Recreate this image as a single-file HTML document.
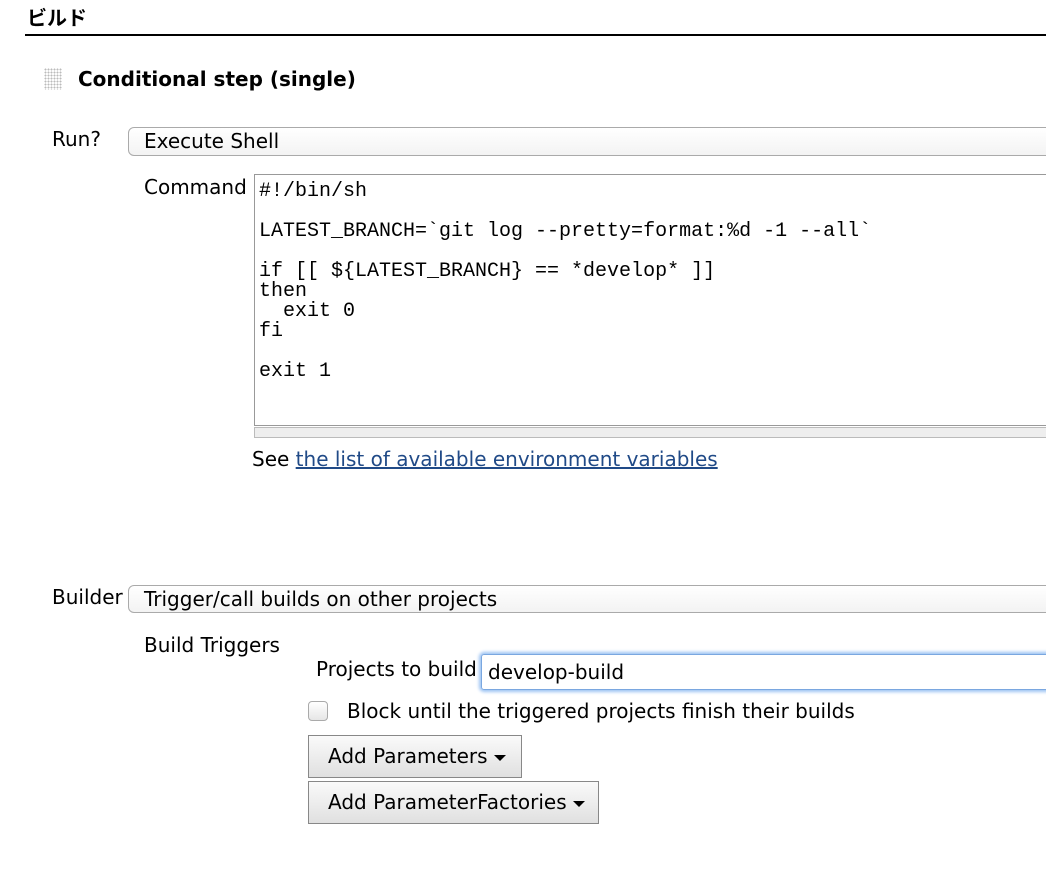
<!DOCTYPE html>
<html><head><meta charset="utf-8"><style>
body{margin:0;width:1046px;height:876px;background:#fff;position:relative;overflow:hidden;font-family:"DejaVu Sans","Liberation Sans","Noto Sans CJK JP",sans-serif;color:#000;}
.a{position:absolute;white-space:nowrap;}
.lbl{font-size:20px;line-height:24px;}
.sel{position:absolute;border:1px solid #aaa;border-radius:6px;background:linear-gradient(#fff,#f3f3f3);font-size:20px;line-height:26px;padding-left:15px;box-sizing:border-box;}
.mono{font-family:"Liberation Mono",monospace;font-size:20px;line-height:20px;white-space:pre;}
.btn{position:absolute;border:1px solid #888;background:linear-gradient(#fafafa,#e0e0e0);font-size:20px;box-sizing:border-box;padding-left:19px;line-height:40px;}
.tri{display:inline-block;width:0;height:0;border-left:6px solid transparent;border-right:6px solid transparent;border-top:6px solid #000;vertical-align:middle;margin-left:6px;}
</style></head><body>
<div class="a" style="left:27px;top:4px;font-size:20px;font-weight:bold;line-height:28px;">ビルド</div>
<div class="a" style="left:25px;top:34px;width:1021px;height:2px;background:#000;"></div>
<div class="a" style="left:44px;top:68px;width:18px;height:22px;background-image:radial-gradient(circle,#bbb 0.9px,transparent 1.1px);background-size:3px 3px;"></div>
<div class="a" style="left:78px;top:66px;font-size:20px;font-weight:bold;line-height:26px;">Conditional step (single)</div>
<div class="a lbl" style="left:52px;top:127px;">Run?</div>
<div class="sel" style="left:128px;top:127px;width:930px;height:29px;">Execute Shell</div>
<div class="a lbl" style="left:144px;top:175px;">Command</div>
<div class="a" style="left:254px;top:174px;width:800px;height:252px;border:1px solid #999;box-sizing:border-box;border-right:none;"></div>
<div class="a mono" style="left:259px;top:182px;">#!/bin/sh

LATEST_BRANCH=`git log --pretty=format:%d -1 --all`

if [[ ${LATEST_BRANCH} == *develop* ]]
then
  exit 0
fi

exit 1</div>
<div class="a" style="left:254px;top:427px;width:800px;height:11px;background:#eee;border:1px solid #bbb;border-right:none;box-sizing:border-box;"></div>
<div class="a lbl" style="left:252px;top:447px;">See <span style="color:#204a87;text-decoration:underline;">the list of available environment variables</span></div>
<div class="a lbl" style="left:52px;top:585px;">Builder</div>
<div class="sel" style="left:128px;top:585px;width:930px;height:28px;">Trigger/call builds on other projects</div>
<div class="a lbl" style="left:144px;top:633px;">Build Triggers</div>
<div class="a lbl" style="left:316px;top:657px;">Projects to build</div>
<div class="a" style="left:481px;top:654px;width:600px;height:36px;border:1px solid #7aa7e0;box-shadow:0 0 3px 2px #9cc3f3;box-sizing:border-box;border-radius:3px;"></div>
<div class="a lbl" style="left:488px;top:660px;">develop-build</div>
<div class="a" style="left:308px;top:701px;width:20px;height:20px;border:1px solid #aaa;border-radius:4px;background:linear-gradient(#fff,#e6e6e6);box-sizing:border-box;"></div>
<div class="a lbl" style="left:347px;top:699px;">Block until the triggered projects finish their builds</div>
<div class="btn" style="left:308px;top:735px;width:214px;height:43px;">Add Parameters<span class="tri"></span></div>
<div class="btn" style="left:308px;top:781px;width:291px;height:43px;">Add ParameterFactories<span class="tri"></span></div>
</body></html>
